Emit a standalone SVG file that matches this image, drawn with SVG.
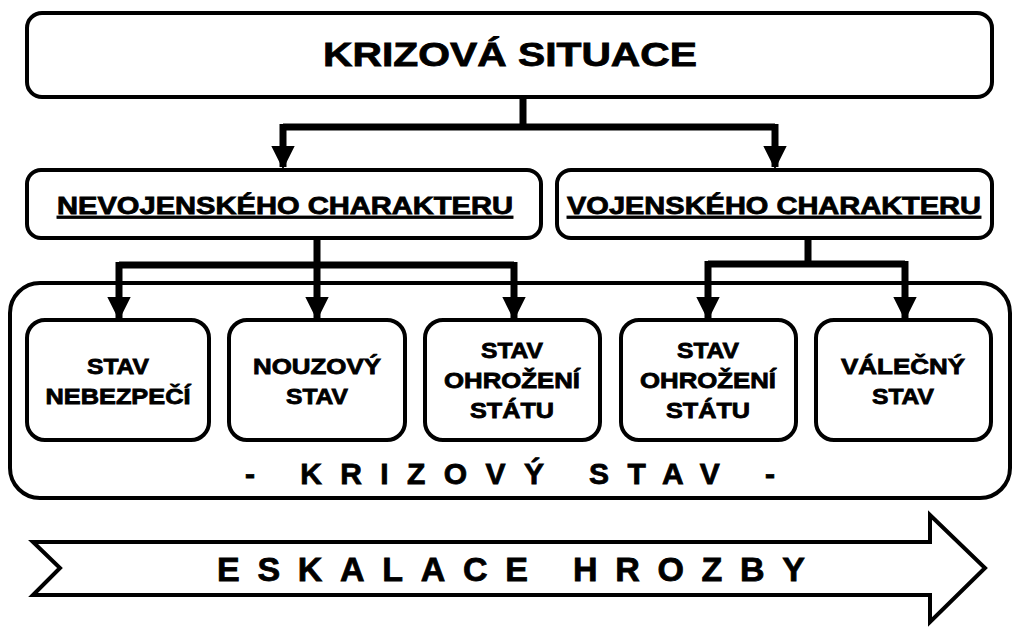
<svg xmlns="http://www.w3.org/2000/svg" width="1024" height="633" viewBox="0 0 1024 633">
<style>
.b{fill:#fff;stroke:#000;stroke-width:4}
.t{font-family:"Liberation Sans",Arial,sans-serif;font-weight:bold;fill:#000;stroke:#000;stroke-width:0.8;text-anchor:middle}
.c{fill:none;stroke:#000;stroke-width:7}
</style>
<defs>
<marker id="a" viewBox="0 0 10 10" refX="9" refY="5" markerWidth="3.4" markerHeight="3.4" orient="auto" markerUnits="strokeWidth">
<path d="M0,0L10,5L0,10z" fill="#000"/></marker>
</defs>
<rect width="1024" height="633" fill="#fff"/>
<g id="container"><rect class="b" x="10" y="283" width="1000" height="215" rx="30"/>
<text class="t" x="510" y="484" font-size="30" textLength="530" lengthAdjust="spacing">- KRIZOVÝ STAV -</text></g>
<g id="connectors">
<path class="c" d="M523,97V127M283,127H775"/>
<path class="c" d="M283,124V167" marker-end="url(#a)"/>
<path class="c" d="M775,124V167" marker-end="url(#a)"/>
<path class="c" d="M317,238V265M119,265H514"/>
<path class="c" d="M119,262V318" marker-end="url(#a)"/>
<path class="c" d="M317,262V318" marker-end="url(#a)"/>
<path class="c" d="M514,262V318" marker-end="url(#a)"/>
<path class="c" d="M808,238V264M708,264H905"/>
<path class="c" d="M708,261V318" marker-end="url(#a)"/>
<path class="c" d="M905,261V318" marker-end="url(#a)"/>
</g>
<g id="top"><rect class="b" x="27" y="13" width="965" height="84" rx="15"/>
<text class="t" x="510" y="66" font-size="34" textLength="374" lengthAdjust="spacingAndGlyphs">KRIZOVÁ SITUACE</text></g>
<g id="nevoj"><rect class="b" x="27" y="170" width="514" height="68" rx="14"/>
<text class="t" x="285" y="214" font-size="24" text-decoration="underline" textLength="456" lengthAdjust="spacingAndGlyphs">NEVOJENSKÉHO CHARAKTERU</text></g>
<g id="voj"><rect class="b" x="557" y="170" width="435" height="68" rx="14"/>
<text class="t" x="774" y="214" font-size="24" text-decoration="underline" textLength="414" lengthAdjust="spacingAndGlyphs">VOJENSKÉHO CHARAKTERU</text></g>
<g id="n1"><rect class="b" x="27" y="320" width="182" height="120" rx="18"/>
<text class="t" x="118" y="374" font-size="22" textLength="62" lengthAdjust="spacingAndGlyphs">STAV</text><text class="t" x="118" y="404" font-size="22" textLength="145" lengthAdjust="spacingAndGlyphs">NEBEZPEČÍ</text></g>
<g id="n2"><rect class="b" x="229" y="320" width="176" height="120" rx="18"/>
<text class="t" x="317" y="374" font-size="22" textLength="128" lengthAdjust="spacingAndGlyphs">NOUZOVÝ</text><text class="t" x="317" y="404" font-size="22" textLength="62" lengthAdjust="spacingAndGlyphs">STAV</text></g>
<g id="n3"><rect class="b" x="425" y="320" width="175" height="120" rx="18"/>
<text class="t" x="512" y="358" font-size="22" textLength="62" lengthAdjust="spacingAndGlyphs">STAV</text><text class="t" x="512" y="388" font-size="22" textLength="136" lengthAdjust="spacingAndGlyphs">OHROŽENÍ</text><text class="t" x="512" y="418" font-size="22" textLength="84" lengthAdjust="spacingAndGlyphs">STÁTU</text></g>
<g id="n4"><rect class="b" x="621" y="320" width="175" height="120" rx="18"/>
<text class="t" x="708" y="358" font-size="22" textLength="62" lengthAdjust="spacingAndGlyphs">STAV</text><text class="t" x="708" y="388" font-size="22" textLength="136" lengthAdjust="spacingAndGlyphs">OHROŽENÍ</text><text class="t" x="708" y="418" font-size="22" textLength="84" lengthAdjust="spacingAndGlyphs">STÁTU</text></g>
<g id="n5"><rect class="b" x="816" y="320" width="175" height="120" rx="18"/>
<text class="t" x="903" y="374" font-size="22" textLength="124" lengthAdjust="spacingAndGlyphs">VÁLEČNÝ</text><text class="t" x="903" y="404" font-size="22" textLength="62" lengthAdjust="spacingAndGlyphs">STAV</text></g>
<g id="escal"><path class="b" d="M33,542H930V515L985,568L930,622V595H33L60,568Z"/>
<text class="t" x="511" y="581" font-size="34" textLength="588" lengthAdjust="spacing">ESKALACE HROZBY</text></g>
</svg>
